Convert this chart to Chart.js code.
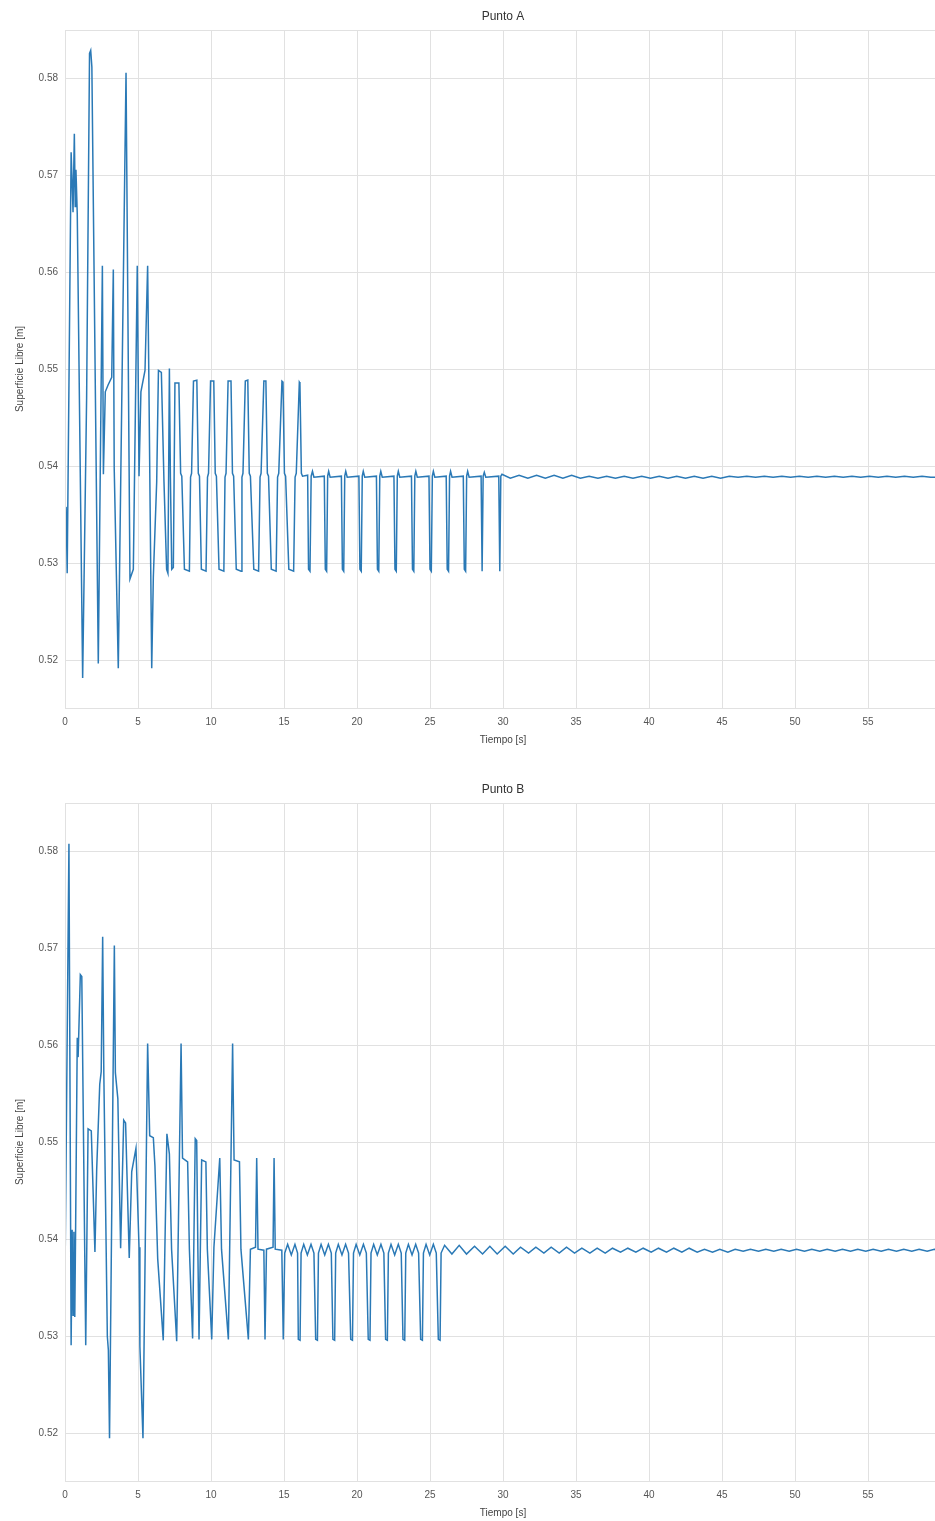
<!DOCTYPE html>
<html>
<head>
<meta charset="utf-8">
<script src="https://cdn.jsdelivr.net/npm/chart.js@4.4.1/dist/chart.umd.min.js"></script>
<style>
  html, body { margin: 0; padding: 0; background: #fff; overflow: hidden; width: 935px; height: 1521px; }
  .panel { position: absolute; left: 0; width: 950px; height: 757px; }
  #panelA { top: 0; }
  #panelB { top: 773px; }
</style>
</head>
<body>
<div class="panel" id="panelA"><canvas id="chartA" width="950" height="757"></canvas></div>
<div class="panel" id="panelB"><canvas id="chartB" width="950" height="757"></canvas></div>
<script>
// Free-surface elevation [m] vs time [s], as [t, eta] pairs.
const puntoA = [
  [0,0.5356],[0.08,0.5357],[0.15,0.5290],[0.42,0.5724],[0.50,0.5688],[0.55,0.5662],[0.64,0.5743],
  [0.70,0.5668],[0.75,0.5706],[0.84,0.5660],[1.21,0.5182],[1.48,0.5470],[1.68,0.5826],[1.76,0.5829],
  [1.84,0.5812],[2.28,0.5197],[2.56,0.5607],[2.63,0.5392],[2.76,0.5477],[2.95,0.5484],[3.20,0.5492],
  [3.31,0.5603],[3.37,0.5399],[3.65,0.5192],[4.18,0.5806],[4.45,0.5284],[4.68,0.5294],[4.95,0.5607],
  [5.07,0.5390],[5.20,0.5477],[5.48,0.5499],[5.66,0.5607],[5.73,0.5510],[5.94,0.5192],[6.05,0.5286],
  [6.28,0.5384],[6.40,0.5499],[6.60,0.5497],[6.78,0.5384],[6.96,0.5294],[7.05,0.5290],[7.15,0.5501],
  [7.22,0.5388],[7.31,0.5294],[7.42,0.5296],[7.53,0.5486],[7.80,0.5486],[7.92,0.5393],[8.00,0.5390],
  [8.18,0.5294],[8.52,0.5292],
  [8.60,0.5389],[8.67,0.5393],[8.80,0.5488],[9.03,0.5489],[9.13,0.5393],[9.21,0.5390],[9.34,0.5294],[9.66,0.5292],
  [9.76,0.5389],[9.83,0.5393],[9.97,0.5488],[10.19,0.5488],[10.29,0.5393],[10.37,0.5390],[10.55,0.5294],[10.88,0.5292],
  [10.96,0.5389],[11.03,0.5393],[11.17,0.5488],[11.37,0.5488],[11.47,0.5393],[11.55,0.5390],[11.73,0.5294],[12.06,0.5292],
  [12.12,0.5389],[12.19,0.5393],[12.35,0.5488],[12.52,0.5489],[12.62,0.5393],[12.70,0.5390],[12.93,0.5294],[13.26,0.5292],
  [13.36,0.5389],[13.43,0.5393],[13.62,0.5488],[13.76,0.5488],[13.86,0.5393],[13.94,0.5390],[14.13,0.5294],[14.46,0.5292],
  [14.56,0.5389],[14.64,0.5393],[14.86,0.5488],[14.93,0.5487],[15.03,0.5393],[15.11,0.5390],[15.33,0.5294],[15.66,0.5292],
  [15.76,0.5389],[15.84,0.5393],[16.05,0.5487],[16.09,0.5486],[16.19,0.5393],[16.27,0.5390],[16.62,0.5391],
  [16.68,0.5294],[16.78,0.5292],[16.86,0.5390],[16.95,0.5395],[17.05,0.5389],
  [17.76,0.5390],[17.83,0.5294],[17.92,0.5292],[17.99,0.5390],[18.06,0.5395],[18.16,0.5389],
  [18.93,0.5390],[19.00,0.5294],[19.09,0.5292],[19.16,0.5390],[19.23,0.5395],[19.33,0.5389],
  [20.13,0.5390],[20.20,0.5294],[20.29,0.5292],[20.36,0.5390],[20.43,0.5395],[20.53,0.5389],
  [21.33,0.5390],[21.40,0.5294],[21.49,0.5292],[21.56,0.5390],[21.63,0.5395],[21.73,0.5389],
  [22.53,0.5390],[22.60,0.5294],[22.69,0.5292],[22.76,0.5390],[22.83,0.5395],[22.93,0.5389],
  [23.73,0.5390],[23.80,0.5294],[23.89,0.5292],[23.96,0.5390],[24.03,0.5395],[24.13,0.5389],
  [24.93,0.5390],[25.00,0.5294],[25.09,0.5292],[25.16,0.5390],[25.23,0.5395],[25.33,0.5389],
  [26.11,0.5390],[26.18,0.5294],[26.27,0.5292],[26.34,0.5390],[26.41,0.5395],[26.51,0.5389],
  [27.28,0.5390],[27.35,0.5294],[27.44,0.5292],[27.51,0.5390],[27.58,0.5395],[27.68,0.5389],
  [28.50,0.5390],[28.57,0.5292],[28.64,0.5390],[28.72,0.5394],[28.82,0.5389],
  [29.71,0.5390],[29.78,0.5292],[29.85,0.5390],[29.93,0.5392],
  [30.5,0.5388],[31.1,0.5391],[31.7,0.5388],[32.3,0.5391],[32.9,0.5388],[33.5,0.5391],[34.1,0.5388],
  [34.7,0.5391],[35.3,0.5388],[35.9,0.5390],[36.5,0.5388],[37.1,0.5390],[37.7,0.5388],[38.3,0.5390],
  [38.9,0.5388],[39.5,0.5390],[40.1,0.5388],[40.7,0.5390],[41.3,0.5388],[41.9,0.5390],[42.5,0.5388],
  [43.1,0.5390],[43.7,0.5388],[44.3,0.5390],[44.9,0.5388],[45.5,0.5390],[46.1,0.5389],[46.7,0.5390],
  [47.3,0.5389],[47.9,0.5390],[48.5,0.5389],[49.1,0.5390],[49.7,0.5389],[50.3,0.5390],[50.9,0.5389],
  [51.5,0.5390],[52.1,0.5389],[52.7,0.5390],[53.3,0.5389],[53.9,0.5390],[54.5,0.5389],[55.1,0.5390],
  [55.7,0.5389],[56.3,0.5390],[56.9,0.5389],[57.5,0.5390],[58.1,0.5389],[58.7,0.5390],[59.3,0.5389],[60,0.5389]
];

const puntoB = [
  [0,0.5360],[0.27,0.5808],[0.42,0.5291],[0.49,0.5410],[0.55,0.5322],[0.61,0.5408],[0.67,0.5320],
  [0.72,0.5400],[0.84,0.5608],[0.90,0.5588],[1.05,0.5673],[1.15,0.5671],[1.42,0.5291],[1.58,0.5514],
  [1.80,0.5512],[2.05,0.5387],[2.17,0.5472],[2.38,0.5560],[2.48,0.5573],[2.58,0.5712],[2.66,0.5570],
  [2.90,0.5300],[2.97,0.5286],[3.05,0.5195],[3.38,0.5703],[3.45,0.5572],[3.62,0.5545],[3.81,0.5391],
  [4.02,0.5523],[4.15,0.5520],[4.40,0.5381],[4.57,0.5470],[4.86,0.5494],[5.07,0.5392],[5.13,0.5290],
  [5.34,0.5195],[5.66,0.5602],[5.80,0.5507],[6.05,0.5505],[6.16,0.5476],[6.35,0.5380],[6.73,0.5296],
  [6.98,0.5509],[7.15,0.5488],[7.30,0.5390],[7.65,0.5295],[7.95,0.5602],[8.05,0.5484],[8.40,0.5480],
  [8.52,0.5390],[8.74,0.5298],[8.92,0.5504],[9.02,0.5502],[9.10,0.5390],[9.18,0.5297],[9.36,0.5482],
  [9.65,0.5480],[9.75,0.5390],[10.05,0.5297],[10.20,0.5392],[10.60,0.5484],[10.72,0.5390],[11.19,0.5297],
  [11.48,0.5602],[11.58,0.5482],[11.95,0.5480],[12.05,0.5390],[12.56,0.5297],[12.70,0.5390],[13.05,0.5392],
  [13.13,0.5484],[13.22,0.5390],[13.62,0.5389],[13.70,0.5297],[13.80,0.5390],[14.25,0.5392],[14.32,0.5484],
  [14.40,0.5390],[14.85,0.5389],[14.95,0.5297],[15.05,0.5386],[15.25,0.5395],[15.50,0.5384],[15.75,0.5395],
  [15.93,0.5386],
  [15.98,0.5297],[16.10,0.5296],[16.17,0.5386],[16.35,0.5395],[16.60,0.5384],[16.85,0.5395],[17.05,0.5386],
  [17.17,0.5297],[17.29,0.5296],[17.36,0.5386],[17.54,0.5395],[17.79,0.5384],[18.04,0.5395],[18.24,0.5386],
  [18.35,0.5297],[18.47,0.5296],[18.54,0.5386],[18.72,0.5395],[18.97,0.5384],[19.22,0.5395],[19.42,0.5386],
  [19.57,0.5297],[19.69,0.5296],[19.76,0.5386],[19.94,0.5395],[20.19,0.5384],[20.44,0.5395],[20.64,0.5386],
  [20.77,0.5297],[20.89,0.5296],[20.96,0.5386],[21.14,0.5395],[21.39,0.5384],[21.64,0.5395],[21.84,0.5386],
  [21.96,0.5297],[22.08,0.5296],[22.15,0.5386],[22.33,0.5395],[22.58,0.5384],[22.83,0.5395],[23.03,0.5386],
  [23.15,0.5297],[23.27,0.5296],[23.34,0.5386],[23.52,0.5395],[23.77,0.5384],[24.02,0.5395],[24.22,0.5386],
  [24.36,0.5297],[24.48,0.5296],[24.55,0.5386],[24.73,0.5395],[24.98,0.5384],[25.23,0.5395],[25.43,0.5386],
  [25.57,0.5297],[25.69,0.5296],[25.76,0.5386],
  [26.0,0.5394],[26.5,0.5385],[27.0,0.5394],[27.5,0.5385],[28.05,0.5393],[28.6,0.5385],[29.1,0.5393],
  [29.6,0.5385],[30.15,0.5393],[30.7,0.5385],[31.2,0.5392],[31.75,0.5386],[32.25,0.5392],[32.8,0.5386],
  [33.3,0.5392],[33.85,0.5386],[34.35,0.5392],[34.9,0.5386],[35.4,0.5391],[35.95,0.5386],[36.45,0.5391],
  [37.0,0.5386],[37.5,0.5391],[38.05,0.5387],[38.55,0.5391],[39.1,0.5387],[39.6,0.5391],[40.15,0.5387],
  [40.65,0.5391],[41.2,0.5387],[41.7,0.5391],[42.25,0.5387],[42.75,0.5391],[43.3,0.5387],[43.8,0.5390],
  [44.35,0.5387],[44.85,0.5390],[45.4,0.5387],[45.9,0.5390],[46.45,0.5388],[46.95,0.5390],[47.5,0.5388],
  [48.0,0.5390],[48.55,0.5388],[49.05,0.5390],[49.6,0.5388],[50.1,0.5390],[50.65,0.5388],[51.15,0.5390],
  [51.7,0.5388],[52.2,0.5390],[52.75,0.5388],[53.25,0.5390],[53.8,0.5388],[54.3,0.5390],[54.85,0.5388],
  [55.35,0.5390],[55.9,0.5388],[56.4,0.5390],[56.95,0.5388],[57.45,0.5390],[58.0,0.5388],[58.5,0.5390],
  [59.05,0.5388],[59.55,0.5390],[60.0,0.5389]
];

const xTicks = [0, 5, 10, 15, 20, 25, 30, 35, 40, 45, 50, 55];
const yTicks = [0.52, 0.53, 0.54, 0.55, 0.56, 0.57, 0.58];
const titles = ['Punto A', 'Punto B'];
const xLabel = 'Tiempo [s]';
const yLabel = 'Superficie Libre [m]';

const GRID = '#e1e1e1';
const FONT = "'Liberation Sans', Arial, sans-serif";

// Light frame around the plotting area (whitegrid style spines)
const frame = {
  id: 'frame',
  afterDraw(chart) {
    const { ctx, chartArea: a } = chart;
    ctx.save();
    ctx.strokeStyle = GRID;
    ctx.lineWidth = 1;
    ctx.strokeRect(Math.round(a.left) + 0.5, Math.round(a.top) + 0.5,
                   Math.round(a.right - a.left), Math.round(a.bottom - a.top));
    ctx.restore();
  }
};

// Panel title centred over the plotting area
const panelTitle = {
  id: 'panelTitle',
  afterDraw(chart, args, opts) {
    const { ctx, chartArea: a } = chart;
    ctx.save();
    ctx.fillStyle = '#333';
    ctx.font = '12px ' + FONT;
    ctx.textAlign = 'center';
    ctx.textBaseline = 'middle';
    ctx.fillText(opts.text, (a.left + a.right) / 2, 17);
    ctx.restore();
  }
};

function makeChart(id, series, title) {
  return new Chart(document.getElementById(id), {
    type: 'line',
    data: {
      datasets: [{
        data: series.map(([x, y]) => ({ x, y })),
        borderColor: '#2a79b6',
        borderWidth: 1.5,
        pointRadius: 0,
        tension: 0,
        fill: false
      }]
    },
    options: {
      responsive: false,
      animation: false,
      events: [],
      layout: { padding: { left: 0, right: 9, top: 30, bottom: 0 } },
      plugins: {
        legend: { display: false },
        tooltip: { enabled: false },
        title: { display: false },
        panelTitle: { text: title }
      },
      scales: {
        x: {
          type: 'linear',
          min: 0,
          max: 60,
          afterBuildTicks: s => { s.ticks = xTicks.map(v => ({ value: v })); },
          afterFit: s => { s.height = 49; },
          grid: { color: GRID, lineWidth: 1, drawTicks: false },
          border: { display: false },
          ticks: {
            color: '#555',
            padding: 8,
            maxRotation: 0,
            font: { family: FONT, size: 10 },
            callback: v => String(v)
          },
          title: {
            display: true,
            text: xLabel,
            color: '#444',
            font: { family: FONT, size: 10, lineHeight: 1.2 },
            padding: { top: 0, bottom: 11 }
          }
        },
        y: {
          type: 'linear',
          min: 0.5151,
          max: 0.5850,
          afterBuildTicks: s => { s.ticks = yTicks.map(v => ({ value: v })); },
          afterFit: s => { s.width = 65; },
          grid: { color: GRID, lineWidth: 1, drawTicks: false },
          border: { display: false },
          ticks: {
            color: '#555',
            padding: 7,
            font: { family: FONT, size: 10 },
            callback: v => Number(v).toFixed(2)
          },
          title: {
            display: true,
            text: yLabel,
            color: '#444',
            font: { family: FONT, size: 10, lineHeight: 1.2 },
            padding: { top: 14, bottom: 0 }
          }
        }
      }
    },
    plugins: [frame, panelTitle]
  });
}

makeChart('chartA', puntoA, titles[0]);
makeChart('chartB', puntoB, titles[1]);
</script>
</body>
</html>
